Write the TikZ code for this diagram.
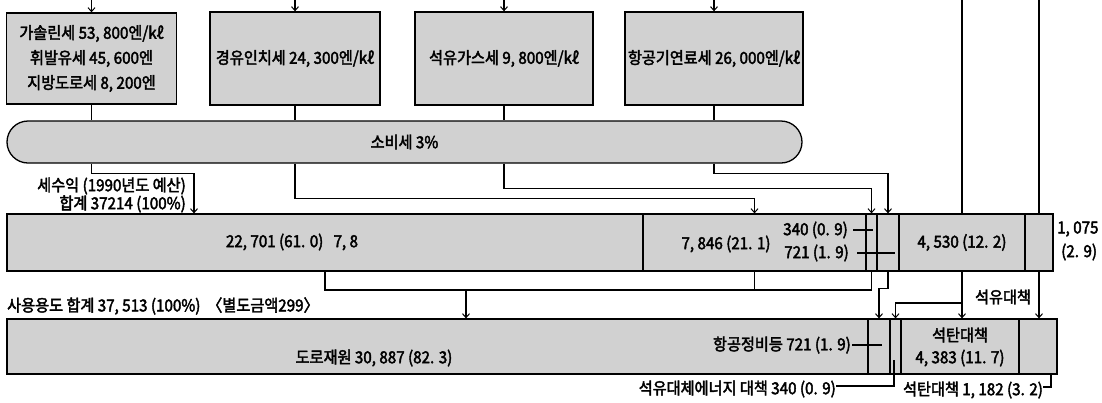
\documentclass[tikz,border=0pt]{standalone}
\usepackage{fontspec}
\setmainfont{Noto Sans CJK KR}[FakeStretch=0.92,FakeBold=2.5]
\usetikzlibrary{arrows.meta}
\begin{document}
\begin{tikzpicture}[x=1pt,y=-1pt,
  every node/.append style={font=\fontsize{16.5}{19}\selectfont},
  box/.style={draw,line width=1.3pt,fill=black!18,inner sep=0pt,align=center},
  sec/.style={draw,line width=1.2pt,fill=black!18,inner sep=0pt},
  lbl/.style={inner sep=0pt},
  ln/.style={line width=1.1pt},
  arr/.style={ln,-{Straight Barb[length=4pt,width=7pt,line width=1pt]}}
]
\fill[white] (0,0) rectangle (1102,402);
\useasboundingbox (0,0) rectangle (1102,402);
\coordinate (top) at (0,0);

% top boxes
\node[box,minimum width=170pt,minimum height=91pt] (b1) at (91.5,58.5)
  {가솔린세 53, 800엔/kℓ\\[6pt]휘발유세 45, 600엔\\[6pt]지방도로세 8, 200엔};
\node[box,minimum width=170pt,minimum height=93pt] (b2) at (295,58.5) {경유인치세 24, 300엔/kℓ};
\node[box,minimum width=178pt,minimum height=93pt] (b3) at (504,58.5) {석유가스세 9, 800엔/kℓ};
\node[box,minimum width=178pt,minimum height=93pt] (b4) at (714,58.5) {항공기연료세 26, 000엔/kℓ};

\foreach \n in {1,...,4}{
  \coordinate (t\n) at (b\n.north |- top);
  \draw[arr] (t\n) -- (b\n.north);
}

% capsule
\node[draw,line width=1.3pt,fill=black!18,rounded corners=21pt,minimum width=795pt,
  minimum height=42pt,inner sep=0pt] (cap) at (404.5,142) {소비세 3\%};
\foreach \n in {1,...,4}{
  \draw[ln] (b\n.south) -- (b\n.south |- cap.north);
}

% revenue bar
\node[sec,minimum width=636pt,minimum height=57pt] (s1a) at (325,242.5) {};
\node[sec,minimum width=223pt,minimum height=57pt] (s1b) at (754.5,242.5) {};
\node[sec,minimum width=11pt,minimum height=57pt] (s1c) at (871.5,242.5) {};
\node[sec,minimum width=22pt,minimum height=57pt] (s1d) at (888,242.5) {};
\node[sec,minimum width=126pt,minimum height=57pt] (s1e) at (962,242.5) {};
\node[sec,minimum width=28pt,minimum height=57pt] (s1f) at (1039,242.5) {};

% usage bar
\node[sec,minimum width=861pt,minimum height=55pt] (s2a) at (437.5,346.5) {};
\node[sec,minimum width=22pt,minimum height=55pt] (s2b) at (879,346.5) {};
\node[sec,minimum width=11pt,minimum height=55pt] (s2c) at (895.5,346.5) {};
\node[sec,minimum width=118pt,minimum height=55pt] (s2d) at (960,346.5) {};
\node[sec,minimum width=38pt,minimum height=55pt] (s2e) at (1038,346.5) {};

% capsule -> revenue bar
\coordinate (in1) at ([xshift=-131pt]s1a.north);
\draw[arr] (b1.south |- cap.south) -- ++(0,10) -| (in1);
\draw[arr] (b2.south |- cap.south) -- ++(0,35) -| (s1b.north);
\draw[arr] (b3.south |- cap.south) -- ++(0,25) -| (s1c.north);
\draw[arr] (b4.south |- cap.south) -- ++(0,10) -| (s1d.north);

% lines from top
\coordinate (t5) at (s1e.north |- top);
\coordinate (t6) at (s1f.north |- top);
\draw[ln] (t5) -- (s1e.north);
\draw[ln] (t6) -- (s1f.north);

% revenue bar -> usage bar
\coordinate (j1) at (466,290);
\draw[ln] (s1a.south) |- (s1c.south |- j1) -- (s1c.south);
\draw[ln] (s1b.south) -- (s1b.south |- j1);
\draw[arr] (j1) -- (j1 |- s2a.north);
\draw[arr] (s1d.south) -- ++(0,17) -| (s2b.north);
\draw[arr] (s1e.south) -- (s1e.south |- s2d.north);
\coordinate (j2) at (962,303);
\draw[arr] (j2) -| (s2c.north);
\draw[arr] (s1f.south) -- (s1f.south |- s2e.north);

% labels
\node[lbl,anchor=east,align=right,font=\fontsize{16.5}{16.5}\selectfont] (rev) at (186,195)
  {세수익 (1990년도 예산)\\합계 37214 (100\%)};
\node[lbl] (v1) at (292,242) {22, 701 (61. 0)~~~7, 8};
\node[lbl] (v2) at (726,244) {7, 846 (21. 1)};
\node[lbl,anchor=east] (v3) at (848,230) {340 (0. 9)};
\node[lbl,anchor=east] (v4) at (849,253) {721 (1. 9)};
\node[lbl] (v5) at (s1e) {4, 530 (12. 2)};
\node[lbl,anchor=west] (v6) at (1057,229) {1, 075};
\node[lbl,anchor=west] (v7) at (1061,252) {(2. 9)};
\draw[ln] ([xshift=5pt]v3.east) -- ([xshift=25pt]v3.east);
\draw[ln] ([xshift=8pt]v4.east) -- ([xshift=46pt]v4.east);

\node[lbl,anchor=west] (use) at (7,306) {사용용도 합계 37, 513 (100\%)~~〈별도금액299〉};
\node[lbl] (u1) at (374,358) {도로재원 30, 887 (82. 3)};
\node[lbl,anchor=east] (u2) at (851,345) {항공정비등 721 (1. 9)};
\draw[ln] ([xshift=1pt]u2.east) -- ([xshift=31pt]u2.east);
\node[lbl,align=center,font=\fontsize{16.5}{22}\selectfont] (u3) at (960,347) {석탄대책\\4, 383 (11. 7)};
\node[lbl,anchor=east] (u4) at (836,389) {석유대체에너지 대책 340 (0. 9)};
\coordinate (l1) at (894,360);
\draw[ln] ([yshift=3pt]u4.east) -| (l1);
\node[lbl] (u5) at (973,390) {석탄대책 1, 182 (3. 2)};
\draw[ln] ([yshift=3pt]u5.east) -| ([xshift=13pt]s2e.south);
\node[lbl] (oil) at (1003,297) {석유대책};
\end{tikzpicture}
\end{document}
